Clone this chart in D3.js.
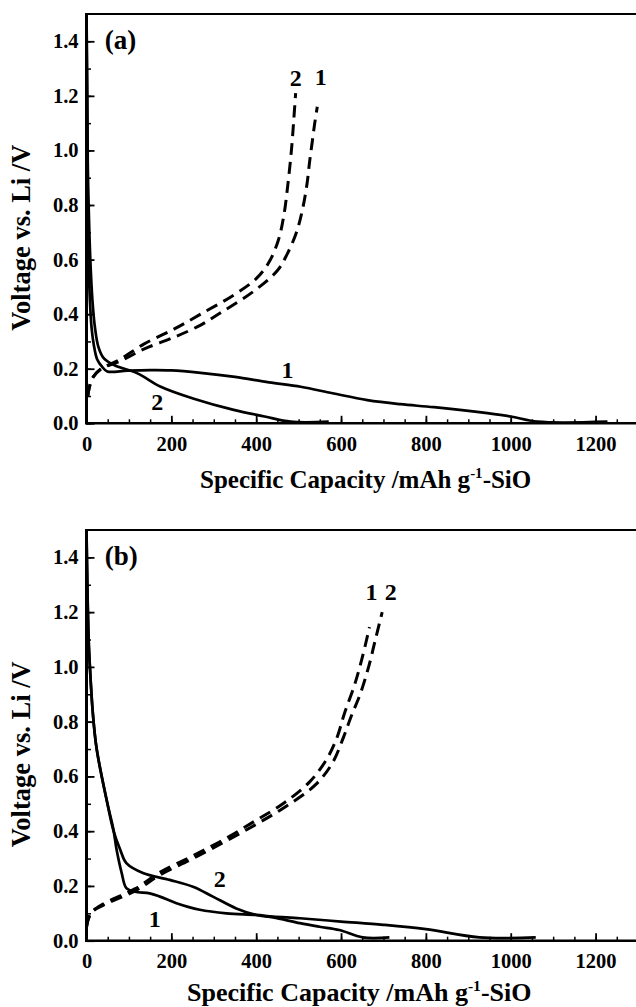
<!DOCTYPE html>
<html>
<head>
<meta charset="utf-8">
<script src="https://cdn.jsdelivr.net/npm/d3@7"></script>
<style>
  body { margin: 0; background: #fff; }
  text { font-family: "Liberation Serif", "Times New Roman", serif; font-weight: bold; fill: #000; }
</style>
</head>
<body>
<div id="chart"></div>
<script>
// ---- data: [capacity mAh/g, voltage V] ----
var aDischarge1 = [[0,1.5],[1,1.2],[2,0.95],[3,0.8],[5,0.6],[8,0.45],[12,0.35],[17,0.29],[25,0.235],[37,0.207],[49,0.19],[96,0.193],[150,0.195],[200,0.194],[269,0.185],[350,0.17],[430,0.15],[505,0.134],[580,0.11],[662,0.085],[740,0.07],[819,0.059],[945,0.037],[1000,0.025],[1063,0.006],[1228,0.006]];
var aDischarge2 = [[0,1.5],[2,1.2],[3,0.95],[5,0.8],[9,0.6],[14,0.45],[20,0.35],[28,0.28],[40,0.24],[64,0.214],[120,0.183],[175,0.134],[253,0.09],[347,0.049],[420,0.025],[481,0.006],[571,0.006]];
var aCharge1 = [[3,0.1],[8,0.14],[16,0.17],[35,0.2],[80,0.228],[135,0.272],[206,0.315],[269,0.36],[316,0.405],[395,0.485],[450,0.56],[473,0.62],[495,0.7],[510,0.79],[520,0.88],[526,0.96],[532,1.03],[538,1.1],[544,1.16]];
var aCharge2 = [[3,0.1],[8,0.14],[16,0.17],[35,0.2],[80,0.235],[135,0.29],[206,0.345],[269,0.4],[347,0.47],[400,0.53],[430,0.59],[452,0.67],[465,0.76],[475,0.88],[483,1.0],[488,1.1],[493,1.21]];

var bDischarge1 = [[0,1.5],[2,1.3],[5,1.1],[8,1.0],[15,0.83],[24,0.7],[48,0.51],[63,0.41],[71,0.332],[83,0.247],[94,0.192],[114,0.179],[149,0.173],[173,0.161],[212,0.137],[267,0.113],[330,0.1],[400,0.094],[440,0.088],[503,0.082],[600,0.07],[700,0.058],[800,0.042],[926,0.012],[1059,0.012]];
var bDischarge2 = [[0,1.5],[2,1.3],[5,1.1],[8,1.0],[15,0.83],[24,0.7],[48,0.51],[63,0.405],[80,0.33],[94,0.283],[133,0.247],[196,0.222],[251,0.197],[298,0.161],[353,0.118],[400,0.094],[440,0.085],[503,0.064],[549,0.051],[596,0.039],[651,0.012],[714,0.012]];
var bCharge1 = [[0,0.05],[10,0.1],[40,0.135],[115,0.19],[173,0.25],[251,0.31],[330,0.375],[400,0.44],[463,0.5],[526,0.58],[565,0.66],[590,0.74],[608,0.83],[632,0.935],[651,1.04],[667,1.145]];
var bCharge2 = [[0,0.05],[10,0.1],[40,0.13],[115,0.182],[173,0.24],[251,0.3],[330,0.365],[400,0.425],[470,0.49],[540,0.57],[580,0.65],[605,0.74],[624,0.82],[645,0.9],[665,1.0],[681,1.1],[697,1.2]];

// curve number labels, placed in data units
var aLabels = [["1",474,0.196],["2",167,0.08],["2",493,1.268],["1",552,1.27]];
var bLabels = [["1",161,0.082],["2",314,0.228],["1",672,1.276],["2",717,1.276]];

var xTicks = [0,200,400,600,800,1000,1200];
var yTicks = [0,0.2,0.4,0.6,0.8,1.0,1.2,1.4];

var svgWidth = 636;
var svgHeight = 1007;

var svg = d3.select("#chart")
  .append("svg")
  .attr("width", svgWidth)
  .attr("height", svgHeight);

var panels = [
  { tag: "(a)", top: 14, bottom: 423.3, titleX: 200, titleY: 488, titleSize: 25,
    solid: [aDischarge1, aDischarge2], dashed: [aCharge1, aCharge2], labels: aLabels },
  { tag: "(b)", top: 530, bottom: 940.7, titleX: 187, titleY: 1000.5, titleSize: 26,
    solid: [bDischarge1, bDischarge2], dashed: [bCharge1, bCharge2], labels: bLabels }
];

var left = 86.5;
var right = 638;

panels.forEach(function(p) {
  var x = d3.scaleLinear().domain([0, 1300]).range([left, right]);
  var y = d3.scaleLinear().domain([0, 1.5]).range([p.bottom, p.top]);
  var g = svg.append("g");

  // minor ticks
  g.append("g")
    .attr("transform", `translate(0, ${p.bottom})`)
    .call(d3.axisBottom(x).tickValues(d3.range(0, 1301, 50)).tickSize(-4).tickFormat(""))
    .call(s => s.select(".domain").remove())
    .selectAll("line").attr("stroke-width", 1.5);
  g.append("g")
    .attr("transform", `translate(${left}, 0)`)
    .call(d3.axisLeft(y).tickValues(d3.range(0, 15).map(d => d / 10)).tickSize(-4.5).tickFormat(""))
    .call(s => s.select(".domain").remove())
    .selectAll("line").attr("stroke-width", 1.5);

  // major ticks
  var xa = g.append("g")
    .attr("transform", `translate(0, ${p.bottom})`)
    .call(d3.axisBottom(x).tickValues(xTicks).tickSize(-7.5).tickPadding(13).tickFormat(d3.format("d")));
  xa.select(".domain").remove();
  xa.selectAll("line").attr("stroke-width", 1.8);
  xa.selectAll("text").attr("font-size", 20.5).style("font-family", "Liberation Serif").style("font-weight", "bold");

  var ya = g.append("g")
    .attr("transform", `translate(${left}, 0)`)
    .call(d3.axisLeft(y).tickValues(yTicks).tickSize(-8).tickPadding(8).tickFormat(d3.format(".1f")));
  ya.select(".domain").remove();
  ya.selectAll("line").attr("stroke-width", 1.8);
  ya.selectAll("text").attr("font-size", 20.5).style("font-family", "Liberation Serif").style("font-weight", "bold");

  // frame
  g.append("line").attr("x1", left).attr("x2", right).attr("y1", p.top).attr("y2", p.top)
    .attr("stroke", "#000").attr("stroke-width", 2);
  g.append("line").attr("x1", left).attr("x2", right).attr("y1", p.bottom).attr("y2", p.bottom)
    .attr("stroke", "#000").attr("stroke-width", 2.5);
  g.append("line").attr("x1", left).attr("x2", left).attr("y1", p.top - 1).attr("y2", p.bottom + 1.2)
    .attr("stroke", "#000").attr("stroke-width", 3);

  var line = d3.line()
    .x(d => x(d[0]))
    .y(d => y(d[1]))
    .curve(d3.curveCatmullRom.alpha(0.5));

  p.solid.forEach(function(s) {
    g.append("path").datum(s)
      .attr("d", line)
      .attr("fill", "none")
      .attr("stroke", "#000")
      .attr("stroke-width", 2.7);
  });
  p.dashed.forEach(function(s) {
    g.append("path").datum(s)
      .attr("d", line)
      .attr("fill", "none")
      .attr("stroke", "#000")
      .attr("stroke-width", 3)
      .attr("stroke-dasharray", "12,7");
  });

  // curve numbers
  g.selectAll(".num")
    .data(p.labels)
    .enter()
    .append("text")
    .attr("x", d => x(d[1]))
    .attr("y", d => y(d[2]))
    .attr("dy", "0.35em")
    .attr("text-anchor", "middle")
    .attr("font-size", 24)
    .text(d => d[0]);

  // panel tag
  g.append("text")
    .attr("x", x(43))
    .attr("y", y(1.405))
    .attr("dy", "0.33em")
    .attr("font-size", 27)
    .text(p.tag);

  // axis titles
  var xt = g.append("text")
    .attr("x", p.titleX)
    .attr("y", p.titleY)
    .attr("font-size", p.titleSize);
  xt.append("tspan").text("Specific Capacity /mAh g");
  xt.append("tspan").attr("font-size", p.titleSize * 0.6).attr("dy", -10).text("-1");
  xt.append("tspan").attr("dy", 10).text("-SiO");

  g.append("text")
    .attr("transform", `translate(30, ${(p.top + p.bottom) / 2 + 19}) rotate(-90)`)
    .attr("text-anchor", "middle")
    .attr("font-size", 26.5)
    .text("Voltage vs. Li /V");
});
</script>
</body>
</html>
